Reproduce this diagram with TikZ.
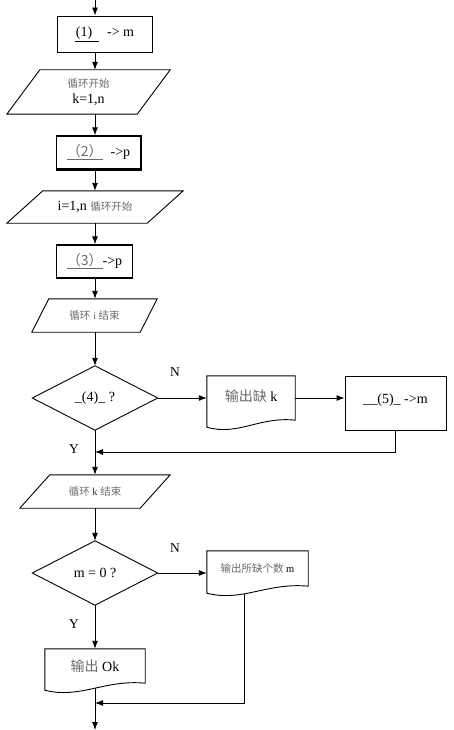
\documentclass[tikz,border=0pt]{standalone}
\usepackage{fontspec}
\setmainfont{Liberation Serif}
\newfontfamily\cjk{Noto Sans CJK SC}
\usetikzlibrary{arrows.meta,calc}
\definecolor{cjkgray}{gray}{0.42}
\newcommand\cj[1]{{\cjk\color{cjkgray}#1}}
\newcommand\smallfont{\fontsize{10.5}{12}\selectfont}
\newcommand\parashape[2]{\draw[shapeline] ($(#1.north west)+(#2,0)$) -- (#1.north east) -- ($(#1.south east)-(#2,0)$) -- (#1.south west) -- cycle;}
\newcommand\docshape[1]{\draw[shapeline] ($(#1.south west)+(0,7)$) -- (#1.north west) -- (#1.north east) -- (#1.south east)
  .. controls ($(#1.south west)!0.6!(#1.south east)+(0,-4)$) and ($(#1.south west)!0.35!(#1.south east)+(0,16)$) .. ($(#1.south west)+(0,7)$) -- cycle;}
\newcommand\diashape[1]{\draw[shapeline] (#1.north) -- (#1.east) -- (#1.south) -- (#1.west) -- cycle;}
\begin{document}
\begin{tikzpicture}[x=1pt,y=-1pt,
  every node/.style={font=\fontsize{14}{16}\selectfont, inner sep=0pt},
  shapeline/.style={draw=black, line width=0.9pt},
  thickbox/.style={draw=black, line width=1.3pt},
  hidden/.style={draw=none},
  arr/.style={draw=black, line width=0.9pt, -{Latex[length=8pt,width=6pt]}},
  lbl/.style={font=\fontsize{13.5}{15}\selectfont}]
\useasboundingbox (0,0) rectangle (453,730);
\fill[white] (0,0) rectangle (453,730);

\coordinate (sp) at (95,0);
\coordinate (j1) at (95,452);
\coordinate (j2) at (95,703);
\coordinate (fin) at (95,730);

% nodes
\node[draw=black, line width=0.9pt, minimum width=95pt, minimum height=36pt] (b1) at (104.5,34)
  {\underline{\hspace{1pt}(1)\hspace{7pt}}\hspace{8pt}-> m\hspace{11pt}};
\node[hidden, minimum width=163pt, minimum height=44pt, align=center] (p1) at (88.5,92)
  {\smallfont\cj{循环开始}\\[0pt] k=1,n};
\node[thickbox, minimum width=84pt, minimum height=33pt] (b2) at (98.5,152.5)
  {{\color{cjkgray}\underline{\cjk （2）}}\hspace{8pt}->p};
\node[hidden, minimum width=176pt, minimum height=32pt] (p2) at (95,207)
  {i=1,n {\smallfont\cj{循环开始}}\hspace{14pt}};
\node[thickbox, minimum width=76pt, minimum height=33pt] (b3) at (94.5,261.5)
  {{\color{cjkgray}\underline{\cjk （3）}}->p};
\node[hidden, minimum width=125pt, minimum height=33pt] (p3) at (94.5,315.5)
  {\smallfont\cj{循环} {\color{cjkgray}i} \cj{结束}\hspace{9pt}};
\node[hidden, minimum width=125pt, minimum height=64pt] (d1) at (95,398)
  {\_(4)\_ ?\hspace{8pt}};
\node[hidden, minimum width=88pt, minimum height=44pt] (k1) at (251,398)
  {\raisebox{4pt}{\cj{输出缺} k}};
\node[draw=black, line width=0.9pt, minimum width=101pt, minimum height=54pt] (b5) at (395.5,403)
  {\raisebox{9pt}{\_\_(5)\_ ->m}};
\node[hidden, minimum width=150pt, minimum height=33pt] (p4) at (95,491.5)
  {\smallfont\cj{循环} {\color{black!80}k} \cj{结束}\hspace{22pt}};
\node[hidden, minimum width=125pt, minimum height=64pt] (d2) at (95,573)
  {m = 0 ?\hspace{8pt}};
\node[hidden, minimum width=101pt, minimum height=35pt] (k2) at (257.5,568.5)
  {\smallfont\cj{输出所缺个数} m};
\node[hidden, minimum width=100pt, minimum height=34pt] (k3) at (95,666)
  {\raisebox{-2pt}{\cj{输出} Ok}\hspace{24pt}};

% outlines
\parashape{p1}{33}
\parashape{p2}{36}
\parashape{p3}{17}
\parashape{p4}{30}
\diashape{d1}
\diashape{d2}
\docshape{k1}
\docshape{k2}
\docshape{k3}
\draw[line width=0.9pt] ($(b2.north east)+(0.6,0)$) -- ($(b2.south east)+(0.6,0.6)$) -- ($(b2.south west)+(0,0.6)$);

% labels
\node[lbl] (n1) at (175,372) {N};
\node[lbl] (y1) at (74,449) {Y};
\node[lbl] (n2) at (175,548) {N};
\node[lbl] (y2) at (74,624) {Y};

% connectors
\draw[arr] (sp) -- (b1.north -| sp);
\draw[arr] (b1.south -| sp) -- (p1.north -| sp);
\draw[arr] (p1.south -| sp) -- (b2.north -| sp);
\draw[arr] (b2.south -| sp) -- (p2.north -| sp);
\draw[arr] (p2.south -| sp) -- (b3.north -| sp);
\draw[arr] (b3.south -| sp) -- (p3.north -| sp);
\draw[arr] (p3.south -| sp) -- (d1.north);
\draw[arr] (d1.east) -- (k1.west);
\draw[arr] (k1.east) -- (b5.west |- k1.east);
\draw[arr] (b5.south) |- (j1);
\draw[arr] (d1.south) -- (p4.north -| sp);
\draw[arr] (p4.south -| sp) -- (d2.north);
\draw[arr] (d2.east) -- (k2.west |- d2.east);
\draw[arr] (d2.south) -- (k3.north);
\draw[arr] ($(k2.south west)!0.376!(k2.south east)+(0,8)$) |- (j2);
\draw[arr] ($(k3.south)+(0,5)$) -- (fin);
\end{tikzpicture}
\end{document}
